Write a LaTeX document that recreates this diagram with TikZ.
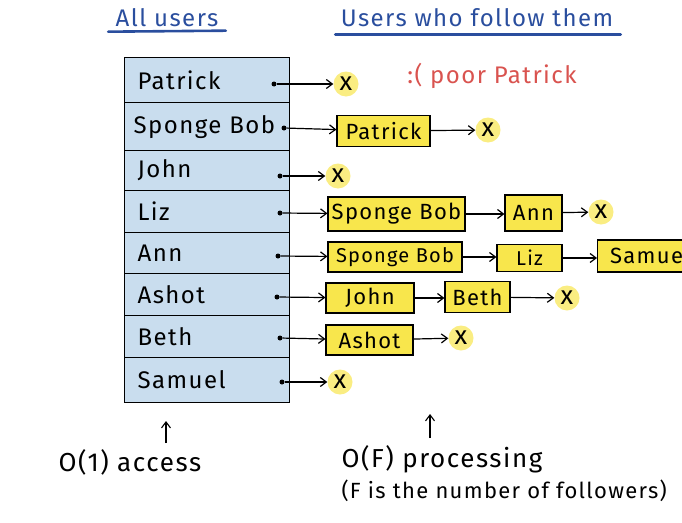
\documentclass[tikz,border=0pt]{standalone}
\usepackage{fontspec}
\setmainfont{Fira Sans}[LetterSpace=6]
\usetikzlibrary{arrows.meta,calc}
\definecolor{tblue}{HTML}{C9DDEE}
\definecolor{hyel}{HTML}{F8E64C}
\definecolor{inkblue}{HTML}{2A4E9E}
\definecolor{inkred}{HTML}{D9534F}
\begin{document}
\begin{tikzpicture}[x=1pt,y=-1pt,
  every node/.style={font=\fontsize{24}{28}\selectfont},
  row/.style={draw=black, line width=1.2pt, fill=tblue, anchor=north west,
    text width=139pt, inner xsep=13pt, inner ysep=0pt, align=left},
  fbox/.style={draw=black, line width=1.1pt, fill=hyel, inner xsep=2pt, inner ysep=0pt,
    minimum height=31pt, font=\fontsize{22}{26}\selectfont},
  nul/.style={circle, fill=hyel!70, inner sep=0pt, minimum size=25pt, font=\fontsize{26}{28}\selectfont},
  dotc/.style={circle, fill=black, inner sep=0pt, minimum size=5pt},
  link/.style={-{Straight Barb[length=6pt,width=9pt]}, line width=1.2pt},
  title/.style={text=inkblue, font=\fontsize{24}{28}\selectfont},
  uline/.style={draw=inkblue, line width=2.6pt, line cap=round}
]
\useasboundingbox (0,0) rectangle (682,522);
\clip (0,0) rectangle (682,522);

% titles
\node[title] (t1) at (167,18) {All users};
\node[title] (t2) at (477,18) {Users who follow them};
\draw[uline] ($(t1.south west)+(-4,1)$) -- ($(t1.south east)+(4,0)$);
\draw[uline] ($(t2.south west)+(-2,4)$) -- ($(t2.south east)+(4,4)$);

% table rows
\node[row, minimum height=45pt] (r1) at (124,57) {Patrick};
\node[row, minimum height=48pt] (r2) at (124,102) {\hspace*{-4pt}\mbox{Sponge Bob}};
\node[row, minimum height=40pt] (r3) at (124,150) {John};
\node[row, minimum height=42pt] (r4) at (124,190) {Liz};
\node[row, minimum height=41pt] (r5) at (124,232) {Ann};
\node[row, minimum height=42pt] (r6) at (124,273) {Ashot};
\node[row, minimum height=42pt] (r7) at (124,315) {Beth};
\node[row, minimum height=45pt] (r8) at (124,357) {Samuel};

% dots
\node[dotc] (d1) at (274,84) {};
\node[dotc] (d2) at (284,128) {};
\node[dotc] (d3) at (280,176) {};
\node[dotc] (d4) at (280,213) {};
\node[dotc] (d5) at (278,256) {};
\node[dotc] (d6) at (277,297) {};
\node[dotc] (d7) at (280,338) {};
\node[dotc] (d8) at (282,382) {};

% Patrick
\node[nul] (x1) at (346,84) {x};
\draw[link] (d1) -- (x1);
\node[text=inkred] (sad) at (492,76) {:( poor Patrick};

% Sponge Bob
\node[fbox, minimum width=93pt] (b21) at (383.5,131) {Patrick};
\node[nul] (x2) at (488,130) {x};
\draw[link] (d2) -- (b21);
\draw[link] (b21) -- (x2);

% John
\node[nul] (x3) at (338,176) {x};
\draw[link] (d3) -- (x3);

% Liz
\node[fbox, minimum width=137pt, minimum height=34pt] (b41) at (396.5,214) {Sponge Bob};
\node[fbox, minimum width=57pt, minimum height=36pt] (b42) at (533.5,213) {Ann};
\node[nul] (x4) at (601,212) {x};
\draw[link] (d4) -- (b41);
\draw[link] (b41.east) -- (b41.east -| b42.west);
\draw[link] (b42) -- (x4);

% Ann
\node[fbox, minimum width=134pt, minimum height=30pt, font=\fontsize{20}{22}\selectfont] (b51) at (395,257) {Sponge Bob};
\node[fbox, minimum width=65pt, minimum height=27pt, font=\fontsize{20}{22}\selectfont] (b52) at (529.5,258) {Liz};
\node[fbox, minimum width=110pt, minimum height=32pt, anchor=west] (b53) at (597,256) {Samue\hspace*{12pt}};
\draw[link] (d5) -- (b51);
\draw[link] (b51.east) -- (b51.east -| b52.west);
\draw[link] (b52.east) -- (b52.east -| b53.west);

% Ashot
\node[fbox, minimum width=88pt, minimum height=30pt] (b61) at (370,298) {John};
\node[fbox, minimum width=65pt, minimum height=31pt] (b62) at (477.5,297) {Beth};
\node[nul] (x6) at (567,298) {x};
\draw[link] (d6) -- (b61);
\draw[link] (b61.east) -- (b61.east -| b62.west);
\draw[link] (b62) -- (x6);

% Beth
\node[fbox, minimum width=87pt, minimum height=30pt] (b71) at (369.5,340) {Ashot};
\node[nul] (x7) at (461,338) {x};
\draw[link] (d7) -- (b71);
\draw[link] (b71) -- (x7);

% Samuel
\node[nul] (x8) at (340,382) {x};
\draw[link] (d8) -- (x8);

% bottom notes
\coordinate (u1a) at (166,443);
\coordinate (u1b) at (166,421);
\coordinate (u2a) at (430,438);
\coordinate (u2b) at (430,414);
\draw[-{Straight Barb[length=6pt,width=9pt]}, line width=1.1pt] (u1a) -- (u1b);
\draw[-{Straight Barb[length=6pt,width=9pt]}, line width=1.1pt] (u2a) -- (u2b);
\node[anchor=west, font=\fontsize{26}{30}\selectfont] (n1) at (55,462) {O(1) access};
\node[anchor=west, font=\fontsize{26}{30}\selectfont] (n2) at (338,459) {O(F) processing};
\node[anchor=west, font=\fontsize{22}{26}\selectfont] (n3) at (338,491) {(F is the number of followers)};
\end{tikzpicture}
\end{document}
